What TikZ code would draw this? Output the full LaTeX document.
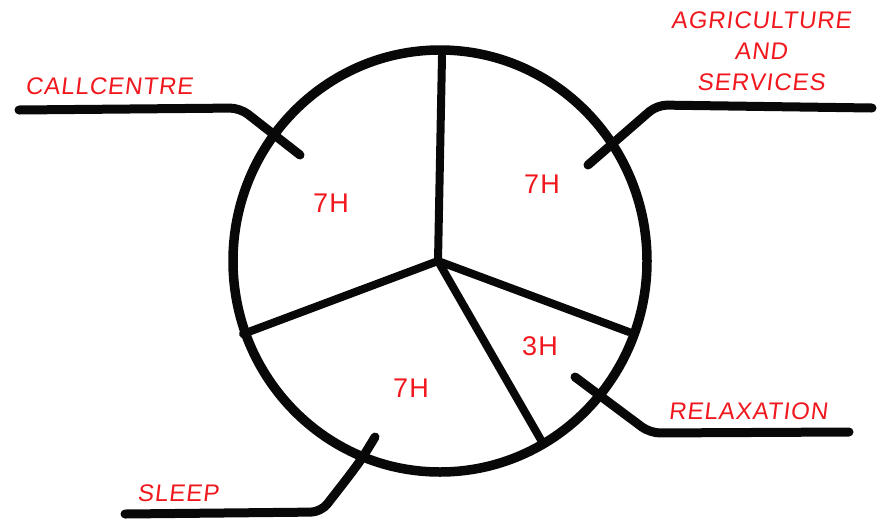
\documentclass[tikz,border=0pt]{standalone}
\usepackage{fontspec}
\setmainfont{Liberation Sans}[FakeSlant=0.12, LetterSpace=4]
\newfontfamily\hoursfont{Liberation Sans}[LetterSpace=4]
\usepackage{tikz}
\usetikzlibrary{calc}
\definecolor{sketchRed}{RGB}{240,24,30}
\definecolor{sketchInk}{RGB}{8,8,8}

\begin{document}
\begin{tikzpicture}[x=1pt,y=-1pt, line cap=round, line join=round]
    \useasboundingbox (0,0) rectangle (880,528);

    % the day as a pie
    \coordinate (hub) at (438,261);
    \coordinate (spokeTop) at (442,56);
    \coordinate (spokeLeft) at (243,334);
    \coordinate (spokeBottom) at (541,440);
    \coordinate (spokeRight) at (629,332);
    \draw[sketchInk, line width=9.5pt] (440,261) ellipse [x radius=207, y radius=211];
    \foreach \e in {spokeTop,spokeLeft,spokeBottom,spokeRight}
        \draw[sketchInk, line width=8pt] (hub) -- (\e);

    \begin{scope}[every node/.style={text=sketchRed, font=\hoursfont\fontsize{27}{30}\selectfont}]
        \node (hCall) at (331,203) {7H};
        \node (hAgri) at (542,184) {7H};
        \node (hRelax) at (540,346) {3H};
        \node (hSleep) at (411,388) {7H};
    \end{scope}

    % leaders out to the labels
    \begin{scope}[sketchInk, line width=9pt, rounded corners=10pt]
        \draw (300,155) -- (240,108) -- (19,110);
        \draw (588,165) -- (657,105) -- (872,108);
        \draw (575,377) -- (650,433) -- (849,432);
        \draw (375,437) .. controls (360,462) .. (321,512) -- (125,514);
    \end{scope}

    \begin{scope}[every node/.style={text=sketchRed, font=\fontsize{24}{31}\selectfont}]
        \node (lblCall) at (109,86) {CALLCENTRE};
        \node[align=center] (lblAgri) at (761,51) {AGRICULTURE\\AND\\SERVICES};
        \node (lblRelax) at (748,411) {RELAXATION};
        \node (lblSleep) at (178,493) {SLEEP};
    \end{scope}
\end{tikzpicture}
\end{document}
